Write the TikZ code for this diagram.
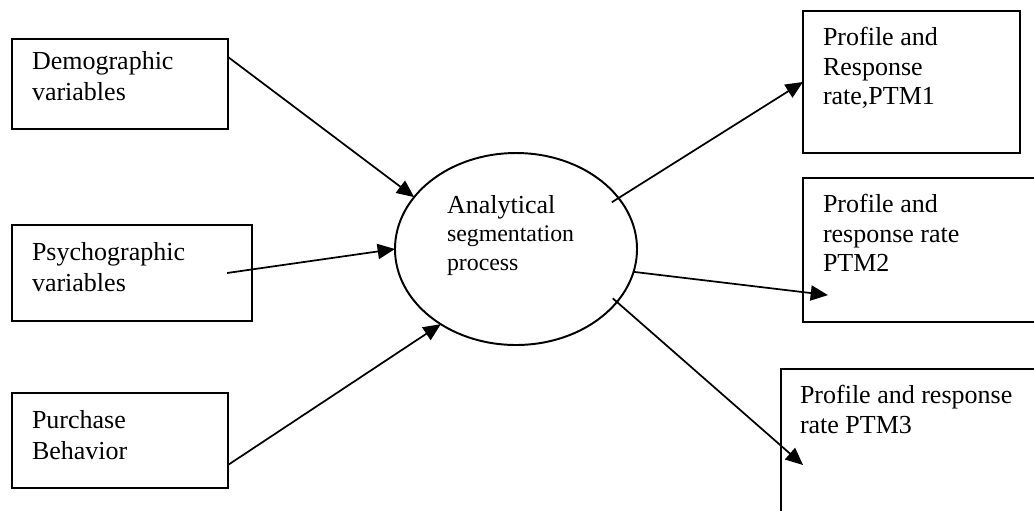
\documentclass[tikz,border=0pt]{standalone}
\usepackage{fontspec}
\setmainfont{Liberation Serif}
\usetikzlibrary{calc,arrows.meta,shapes.geometric}
\tikzset{
  box/.style={draw, line width=0.9pt, rectangle, inner sep=0pt, outer sep=0pt, anchor=north west},
  txt/.style={anchor=north west, inner sep=0pt, outer sep=0pt, align=left, font=\fontsize{12}{14.4}\selectfont},
  rtxt/.style={txt, font=\fontsize{12}{13.7}\selectfont},
  link/.style={line width=0.8pt, -{Triangle[length=8pt,width=7pt]}},
}
\begin{document}
\begin{tikzpicture}[x=0.4615pt,y=-0.4615pt]
\useasboundingbox (0,0) rectangle (1034,510);
\fill[white] (0,0) rectangle (1034,510);
\clip (0,0) rectangle (1034,510);

% input boxes
\node[box, minimum width=99.7pt, minimum height=41.5pt] (dem) at (12,39) {};
\node[box, minimum width=110.8pt, minimum height=44.3pt] (psy) at (12,225) {};
\node[box, minimum width=99.7pt, minimum height=43.8pt] (pur) at (12,393) {};
\node[txt] (demt) at (32,51) {Demographic\\variables};
\node[txt] (psyt) at (32,242) {Psychographic\\variables};
\node[txt] (purt) at (32,410) {Purchase\\Behavior};

% central process
\node[draw, ellipse, line width=0.9pt, inner sep=0pt, outer sep=0pt,
      minimum width=111.7pt, minimum height=88.6pt] (ell) at (516,249) {};
\node[txt, font=\fontsize{11}{13.2}\selectfont] (ellt) at (447,195)
  {{\fontsize{12}{13.2}\selectfont Analytical}\\segmentation\\process};

% output boxes
\node[box, minimum width=100.1pt, minimum height=65.5pt] (p1) at (803,11) {};
\node[box, minimum width=109.4pt, minimum height=66.5pt] (p2) at (803,178) {};
\node[box, minimum width=121.8pt, minimum height=69.7pt] (p3) at (781,369) {};
\node[rtxt] (p1t) at (823,27) {Profile and\\Response\\rate,PTM1};
\node[rtxt] (p2t) at (823,194) {Profile and\\response rate\\PTM2};
\node[rtxt] (p3t) at (800,385) {Profile and response\\rate PTM3};

\coordinate (t2) at ($(p2.south west)+(25,-27)$);
\coordinate (t3) at ($(p3.north west)+(22,96)$);

% connectors
\draw[link] ($(dem.north east)!0.2!(dem.south east)$) -- (ell.153);
\draw[link] ($(psy.east)+(-25,0)$) -- (ell.west);
\draw[link] ($(pur.north east)!0.758!(pur.south east)$) -- (ell.225);
\draw[link] ($(ell.center)!0.93!(ell.26)$) -- (p1.west);
\draw[link] (ell.-11) -- (t2);
\draw[link] ($(ell.center)!0.95!(ell.-27)$) -- (t3);
\end{tikzpicture}
\end{document}
